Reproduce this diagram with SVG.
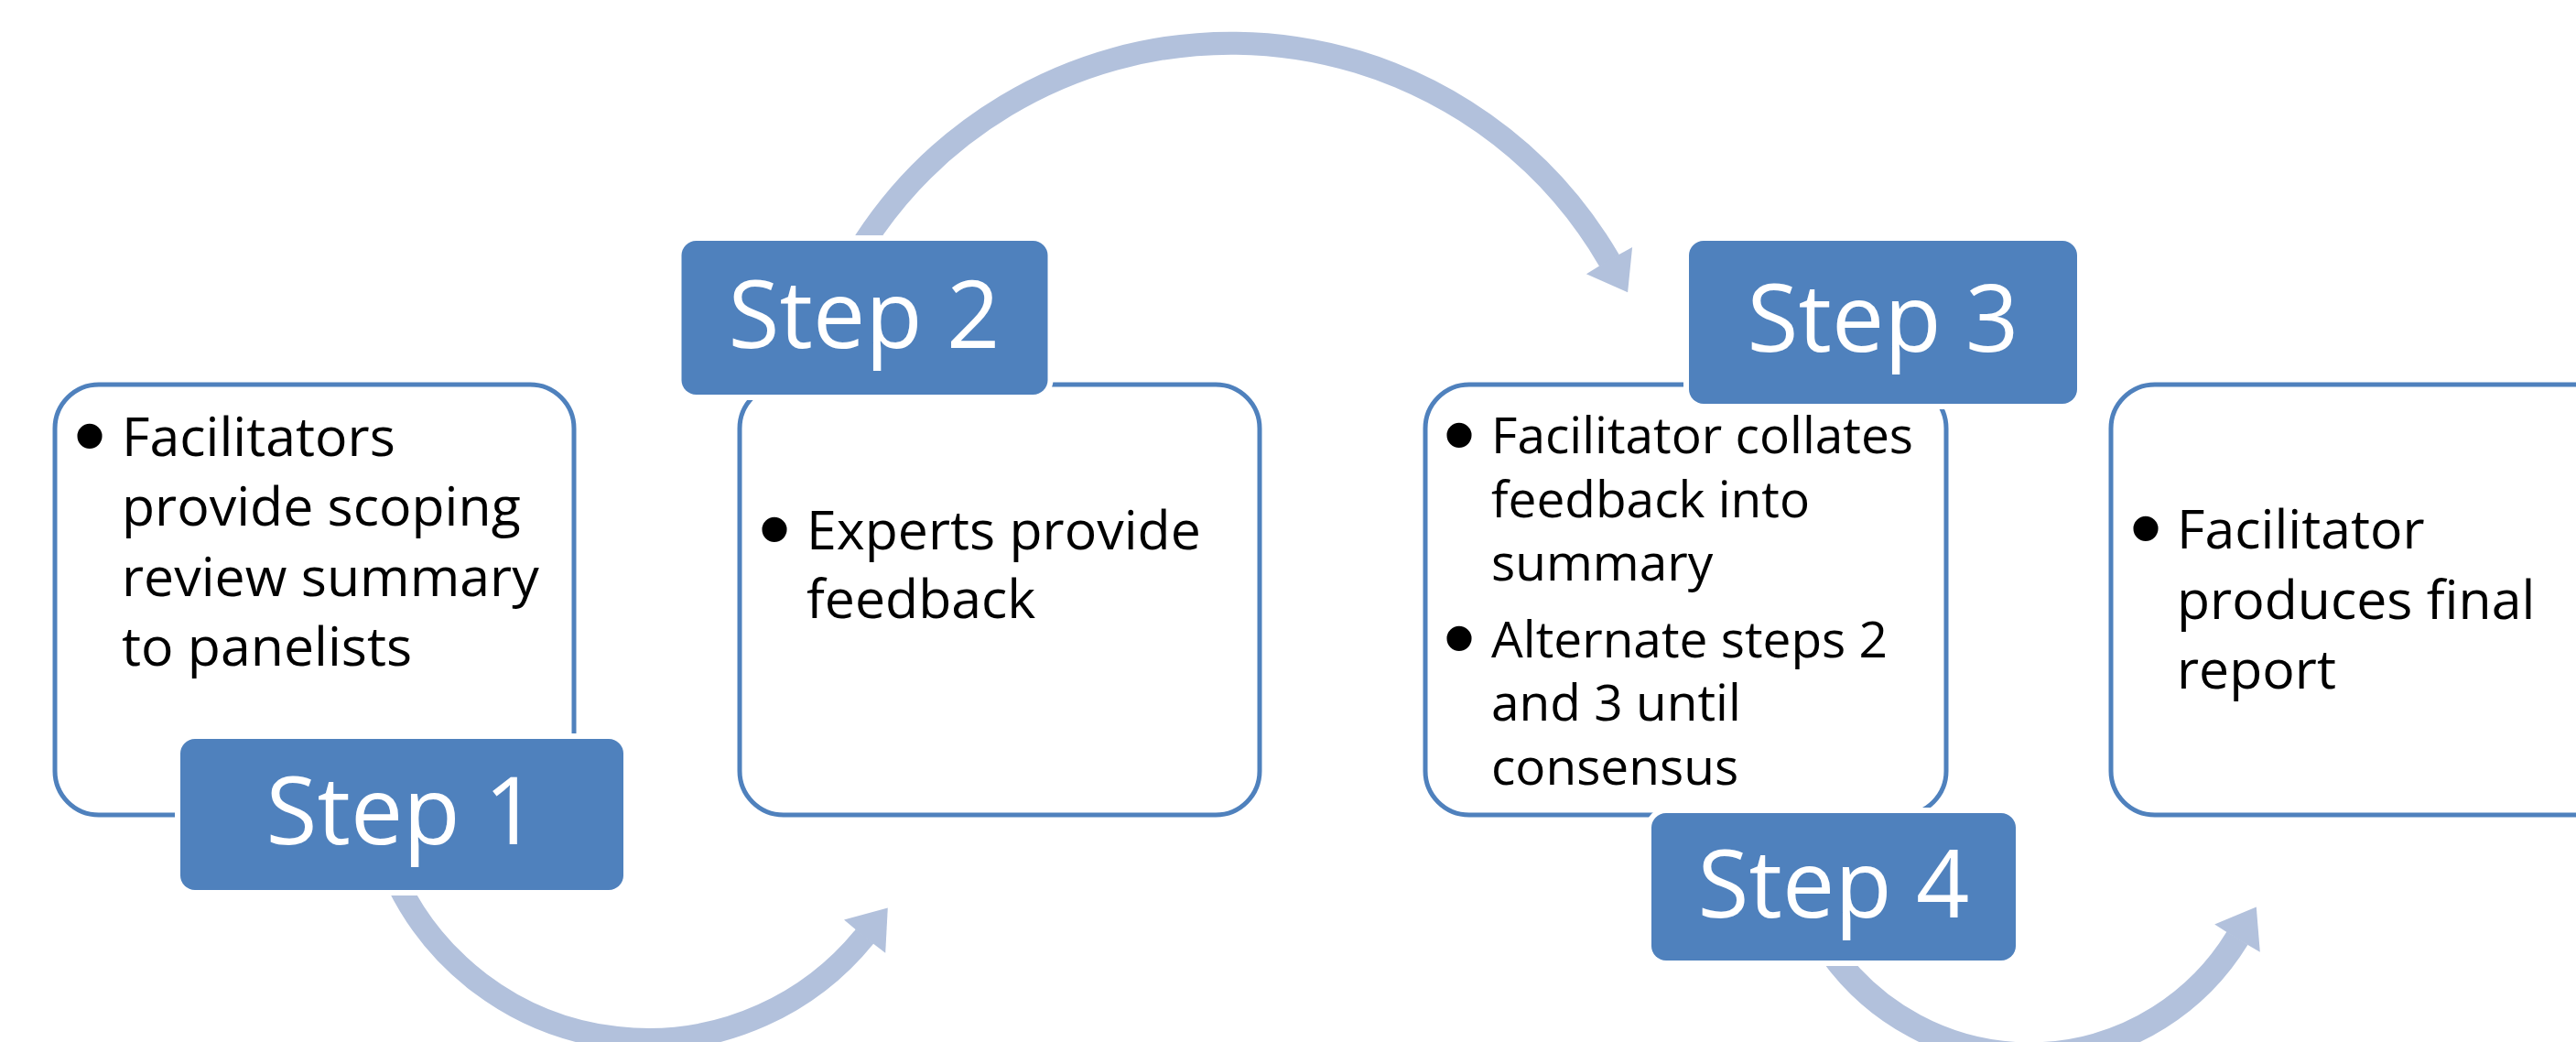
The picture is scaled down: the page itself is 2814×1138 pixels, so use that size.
<svg xmlns="http://www.w3.org/2000/svg" width="2814" height="1138" viewBox="0 0 2814 1138">
  <style>
    .box { fill: #ffffff; stroke: #4f81bd; stroke-width: 5; }
    .tab { fill: #4f81bd; stroke: #ffffff; stroke-width: 12; paint-order: stroke; }
    .tab-label { font-family: "Open Sans", "Liberation Sans", sans-serif; font-size: 102px; fill: #ffffff; text-anchor: middle; }
    .body { font-family: "Open Sans", "Liberation Sans", sans-serif; font-size: 59px; fill: #000000; }
    .body.small { font-size: 55px; }
    .bullet { font-family: "Liberation Sans", Arial, sans-serif; font-size: 100px; fill: #000000; text-anchor: middle; }
    .arc { fill: none; stroke: #b2c1dc; stroke-linecap: butt; }
    .head { fill: #b2c1dc; }
  </style>

  <!-- curved flow arrows between the steps (drawn beneath the step tabs) -->
  <g id="connectors">
    <g id="arrow-1-2">
      <path class="arc" stroke-width="25" d="M 434.6 965 A 304.5 304.5 0 0 0 944.6 1022.6"/>
      <polygon class="head" points="967.2,1040.8 969.8,991.5 922,1004.4 944,1023"/>
    </g>
    <g id="arrow-2-3">
      <path class="arc" stroke-width="25" d="M 937.6 275 A 478 478 0 0 1 1758 284.6"/>
      <polygon class="head" points="1783.1,270 1778.1,319.2 1732.9,299.2 1757.5,284"/>
    </g>
    <g id="arrow-3-4">
      <path class="arc" stroke-width="27" d="M 2000.2 1040 A 266 266 0 0 0 2444 1024.6"/>
      <polygon class="head" points="2468.8,1039.7 2464.8,990.5 2419.2,1009.5 2443.5,1025"/>
    </g>
  </g>

  <!-- Step 1 -->
  <g id="step-1">
    <rect class="box" x="60" y="420" width="567" height="470" rx="48" ry="48"/>
    <text class="bullet" x="98" y="510">•</text>
    <text class="body" x="133" y="498">Facilitators</text>
    <text class="body" x="133" y="574">provide scoping</text>
    <text class="body" x="133" y="651">review summary</text>
    <text class="body" x="133" y="727">to panelists</text>
    <rect class="tab" x="197" y="807" width="484" height="165" rx="16" ry="16"/>
    <text class="tab-label" x="439" y="922">Step 1</text>
  </g>

  <!-- Step 2 -->
  <g id="step-2">
    <rect class="box" x="808" y="420" width="568" height="470" rx="48" ry="48"/>
    <text class="bullet" x="846" y="612">•</text>
    <text class="body" x="881" y="600">Experts provide</text>
    <text class="body" x="881" y="675">feedback</text>
    <rect class="tab" x="744.5" y="263" width="400" height="168" rx="16" ry="16"/>
    <text class="tab-label" x="944" y="380">Step 2</text>
  </g>

  <!-- Step 3 -->
  <g id="step-3">
    <rect class="box" x="1557" y="420" width="569" height="470" rx="48" ry="48"/>
    <text class="bullet" x="1594" y="509">•</text>
    <text class="body small" x="1629" y="495">Facilitator collates</text>
    <text class="body small" x="1629" y="565">feedback into</text>
    <text class="body small" x="1629" y="634">summary</text>
    <text class="bullet" x="1594" y="731">•</text>
    <text class="body small" x="1629" y="718">Alternate steps 2</text>
    <text class="body small" x="1629" y="787">and 3 until</text>
    <text class="body small" x="1629" y="857">consensus</text>
    <rect class="tab" x="1845" y="263" width="424" height="178" rx="16" ry="16"/>
    <text class="tab-label" x="2057" y="384">Step 3</text>
  </g>

  <!-- Step 4 -->
  <g id="step-4">
    <rect class="box" x="2306" y="420" width="568" height="470" rx="48" ry="48"/>
    <text class="bullet" x="2344" y="611">•</text>
    <text class="body" x="2378" y="599">Facilitator</text>
    <text class="body" x="2378" y="675.5">produces final</text>
    <text class="body" x="2378" y="752">report</text>
    <rect class="tab" x="1804" y="888" width="398" height="161" rx="16" ry="16"/>
    <text class="tab-label" x="2003" y="1002">Step 4</text>
  </g>
</svg>
